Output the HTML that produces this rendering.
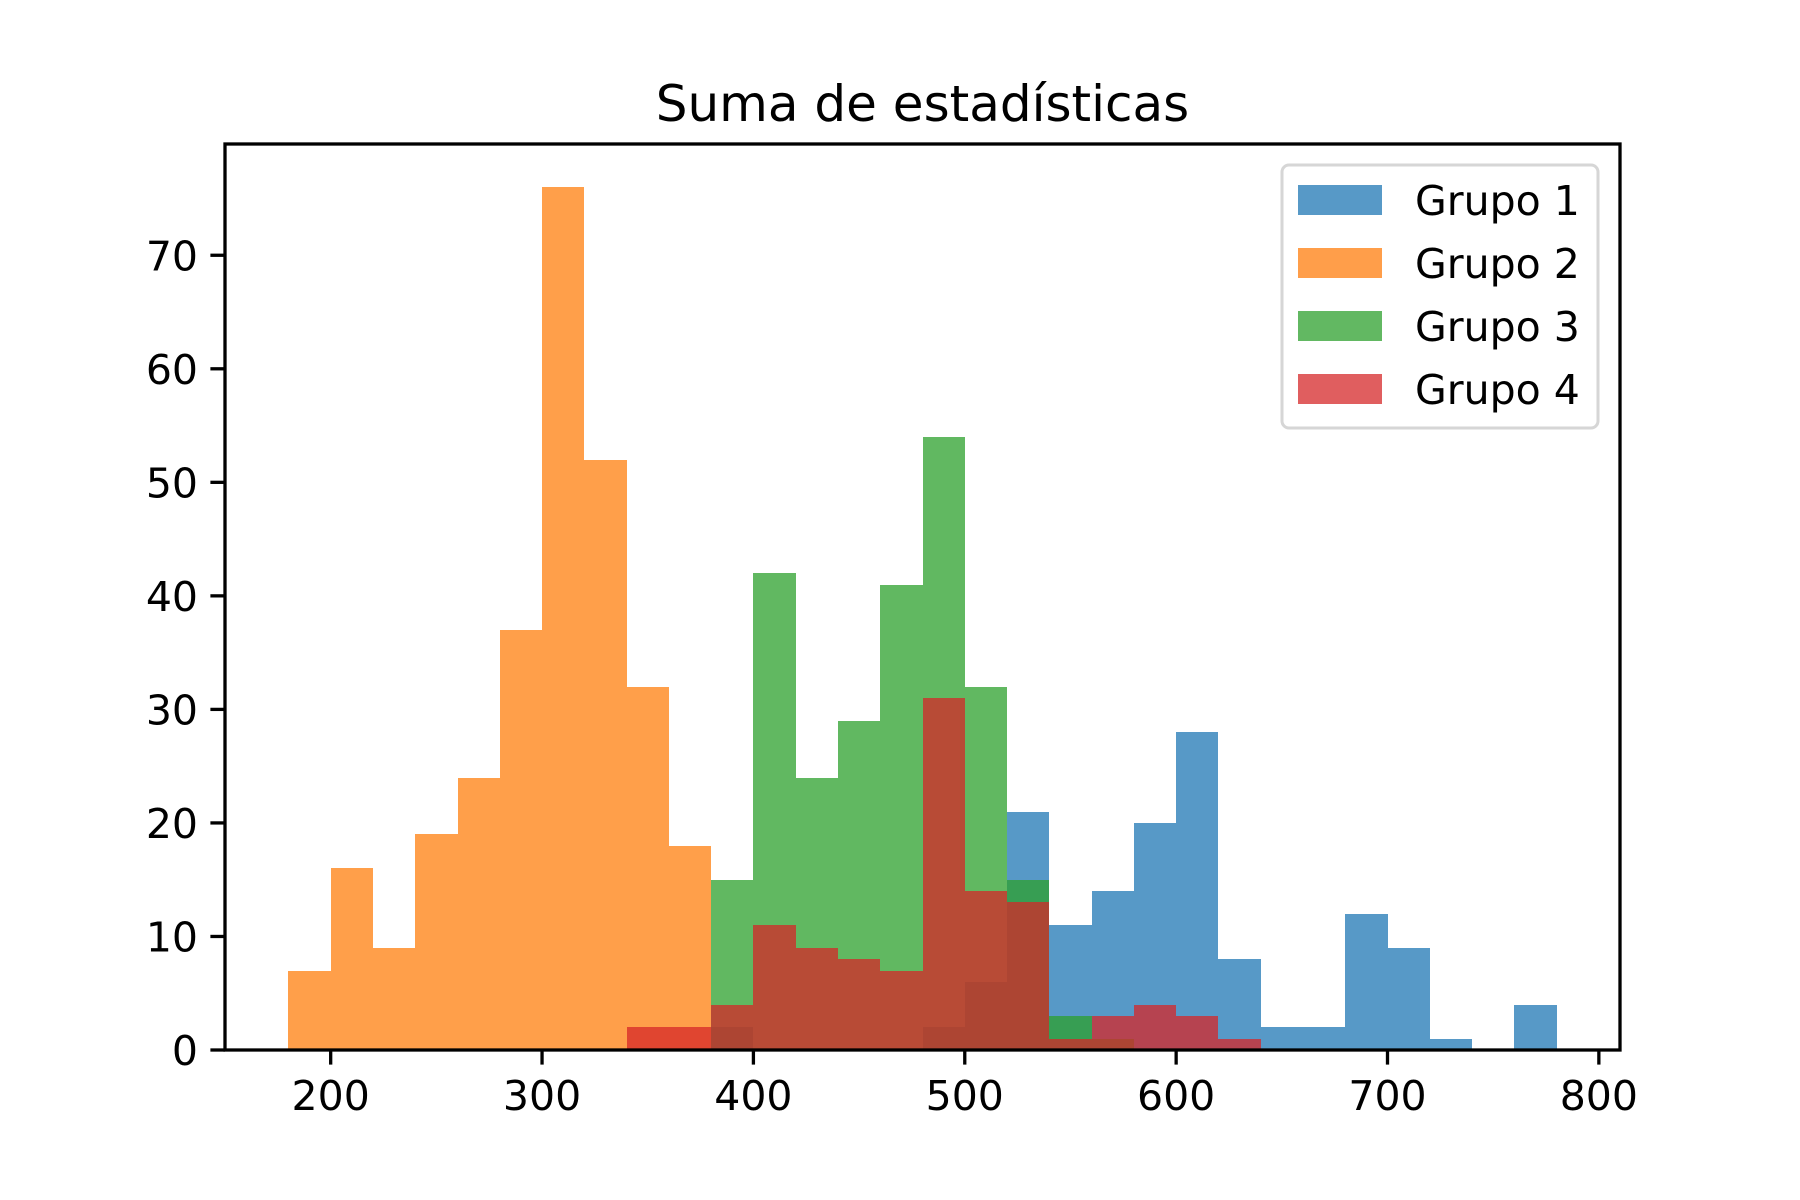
<!DOCTYPE html>
<html><head><meta charset="utf-8"><style>
html,body{margin:0;padding:0;background:#fff;}
svg{display:block;font-family:"DejaVu Sans","Liberation Sans",sans-serif;}
</style></head><body>
<svg id="chart" width="1800" height="1200" viewBox="0 0 1800 1200" xmlns="http://www.w3.org/2000/svg">
<rect width="1800" height="1200" fill="#fff"/>
<text x="922.5" y="121" font-size="50" text-anchor="middle">Suma de estadísticas</text>
<g id="bars" shape-rendering="crispEdges"></g>
<g id="axes"></g>
<g>
<rect x="1282" y="165" width="316" height="263" rx="7" fill="#fff" fill-opacity="0.8" stroke="#d6d6d6" stroke-width="3"/>
<rect x="1298" y="185" width="84" height="30" fill="#5799c7"/>
<text x="1415" y="215" font-size="41">Grupo 1</text>
<rect x="1298" y="248" width="84" height="30" fill="#ff9e4a"/>
<text x="1415" y="278" font-size="41">Grupo 2</text>
<rect x="1298" y="311" width="84" height="30" fill="#62b862"/>
<text x="1415" y="341" font-size="41">Grupo 3</text>
<rect x="1298" y="374" width="84" height="30" fill="#e05e5f"/>
<text x="1415" y="404" font-size="41">Grupo 4</text>
</g>
</svg>
<script>
const binStarts = [180,200,220,240,260,280,300,320,340,360,380,400,420,440,460,480,500,520,540,560,580,600,620,640,660,680,700,720,740,760];
const grupo1 = [0,0,0,0,0,0,0,0,0,0,2,0,0,0,0,2,6,21,11,14,20,28,8,2,2,12,9,1,0,4];
const grupo2 = [7,16,9,19,24,37,76,52,32,18,0,0,0,0,0,0,0,0,0,0,0,0,0,0,0,0,0,0,0,0];
const grupo3 = [0,0,0,0,0,0,0,0,0,0,15,42,24,29,41,54,32,15,3,1,0,0,0,0,0,0,0,0,0,0];
const grupo4 = [0,0,0,0,0,0,0,0,2,2,4,11,9,8,7,31,14,13,1,3,4,3,1,0,0,0,0,0,0,0];
const binWidth = 20;
const xTicks = [200,300,400,500,600,700,800];
const yTicks = [0,10,20,30,40,50,60,70];
const seriesNames = ['grupo-1','grupo-2','grupo-3','grupo-4'];
const seriesColors = ['#1f77b4','#ff7f0e','#2ca02c','#d62728'];

const L=225,R=1620,T=144,B=1050;
const xMin=150,xMax=810,yMin=0,yMax=79.8;
function xs(v){return L+(v-xMin)/(xMax-xMin)*(R-L);}
function ys(v){return B-(v-yMin)/(yMax-yMin)*(B-T);}
const NS='http://www.w3.org/2000/svg';
const bars=document.getElementById('bars');
[grupo1,grupo2,grupo3,grupo4].forEach((vals,si)=>{
  vals.forEach((v,i)=>{
    if(v<=0)return;
    const r=document.createElementNS(NS,'rect');
    const x0=Math.round(xs(binStarts[i])),x1=Math.round(xs(binStarts[i]+binWidth));
    const y0=Math.round(ys(v));
    r.setAttribute('x',x0);r.setAttribute('width',x1-x0);
    r.setAttribute('y',y0);r.setAttribute('height',B-y0);
    r.setAttribute('fill',seriesColors[si]);r.setAttribute('fill-opacity','0.75');
    
    
    bars.appendChild(r);
  });
});
const axes=document.getElementById('axes');
xTicks.forEach(t=>{
  const l=document.createElementNS(NS,'line');
  l.setAttribute('x1',xs(t));l.setAttribute('x2',xs(t));l.setAttribute('y1',B);l.setAttribute('y2',B+14.6);
  l.setAttribute('stroke','#000');l.setAttribute('stroke-width','3.3');
  
  
  axes.appendChild(l);
  const tx=document.createElementNS(NS,'text');
  tx.setAttribute('x',xs(t));tx.setAttribute('y',B+60);tx.setAttribute('font-size','41');tx.setAttribute('text-anchor','middle');
  tx.textContent=t;
  
  
  axes.appendChild(tx);
});
yTicks.forEach(t=>{
  const l=document.createElementNS(NS,'line');
  l.setAttribute('x1',L-14.6);l.setAttribute('x2',L);l.setAttribute('y1',ys(t));l.setAttribute('y2',ys(t));
  l.setAttribute('stroke','#000');l.setAttribute('stroke-width','3.3');
  
  
  axes.appendChild(l);
  const tx=document.createElementNS(NS,'text');
  tx.setAttribute('x',L-27);tx.setAttribute('y',ys(t)+15);tx.setAttribute('font-size','41');tx.setAttribute('text-anchor','end');
  tx.textContent=t;
  
  
  axes.appendChild(tx);
});
const frame=document.createElementNS(NS,'rect');
frame.setAttribute('x',L);frame.setAttribute('y',T);frame.setAttribute('width',R-L);frame.setAttribute('height',B-T);
frame.setAttribute('fill','none');frame.setAttribute('stroke','#000');frame.setAttribute('stroke-width','3.3');


axes.appendChild(frame);
</script>
</body></html>
